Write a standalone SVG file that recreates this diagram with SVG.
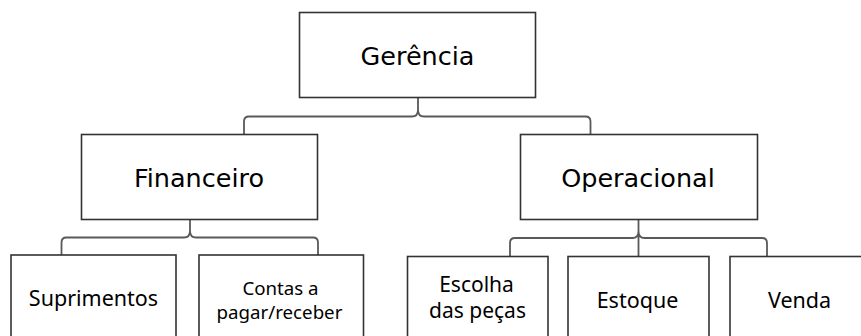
<svg xmlns="http://www.w3.org/2000/svg" width="861" height="336" viewBox="0 0 861 336">
<style>
.box{fill:#fff;stroke:#333;stroke-width:1.6}
.con{fill:none;stroke:#595959;stroke-width:1.8}
.t1{font-family:"DejaVu Sans",Verdana,sans-serif;font-size:25.5px;fill:#000;text-anchor:middle}
.t2{font-family:"Noto Sans","Open Sans",sans-serif;font-size:21.5px;fill:#000;text-anchor:middle}
.t2s{font-family:"Noto Sans","Open Sans",sans-serif;font-size:21px;fill:#000;text-anchor:middle}
.t3{font-family:"Noto Sans","Open Sans",sans-serif;font-size:18.7px;fill:#000;text-anchor:middle}
</style>
<rect width="861" height="336" fill="#fff"/>
<g id="connectors">
<path class="con" d="M418,98 L418,110 Q418,116.5 412,116.5 L249,116.5 Q244,116.5 244,121.5 L244,135 M418,110 Q418,116.5 424,116.5 L585.5,116.5 Q590.5,116.5 590.5,121.5 L590.5,135"/>
<path class="con" d="M190,219.5 L190,231 Q190,237.5 184,237.5 L66.5,237.5 Q61.5,237.5 61.5,242.5 L61.5,255 M190,231 Q190,237.5 196,237.5 L313,237.5 Q318,237.5 318,242.5 L318,255"/>
<path class="con" d="M638.5,219.5 L638.5,256.5 M638.5,231 Q638.5,238 632.5,238 L515,238 Q510,238 510,243 L510,256.5 M638.5,231 Q638.5,238 644.5,238 L762,238 Q767,238 767,243 L767,256.5"/>
</g>
<g id="gerencia">
<rect class="box" x="299.5" y="12.5" width="236" height="85"/>
<text class="t1" x="417.5" y="64.5">Gerência</text>
</g>
<g id="financeiro">
<rect class="box" x="81.5" y="134.5" width="236" height="85"/>
<text class="t1" x="199" y="187">Financeiro</text>
</g>
<g id="operacional">
<rect class="box" x="520.5" y="134.5" width="237" height="85"/>
<text class="t1" x="638" y="187">Operacional</text>
</g>
<g id="suprimentos">
<rect class="box" x="11" y="255" width="165" height="90"/>
<text class="t2" x="93.5" y="305.5">Suprimentos</text>
</g>
<g id="contas">
<rect class="box" x="199" y="255" width="164.5" height="90"/>
<text class="t3" x="280.5" y="295">Contas a</text>
<text class="t3" x="279.5" y="318.5">pagar/receber</text>
</g>
<g id="escolha">
<rect class="box" x="407.5" y="256.5" width="140.5" height="90"/>
<text class="t2s" x="476.5" y="291.5">Escolha</text>
<text class="t2s" x="477.5" y="318">das peças</text>
</g>
<g id="estoque">
<rect class="box" x="568" y="256.5" width="141" height="90"/>
<text class="t2" x="637.5" y="307.5">Estoque</text>
</g>
<g id="venda">
<rect class="box" x="730" y="256.5" width="140" height="90"/>
<text class="t2" x="799.5" y="307.5">Venda</text>
</g>
</svg>
